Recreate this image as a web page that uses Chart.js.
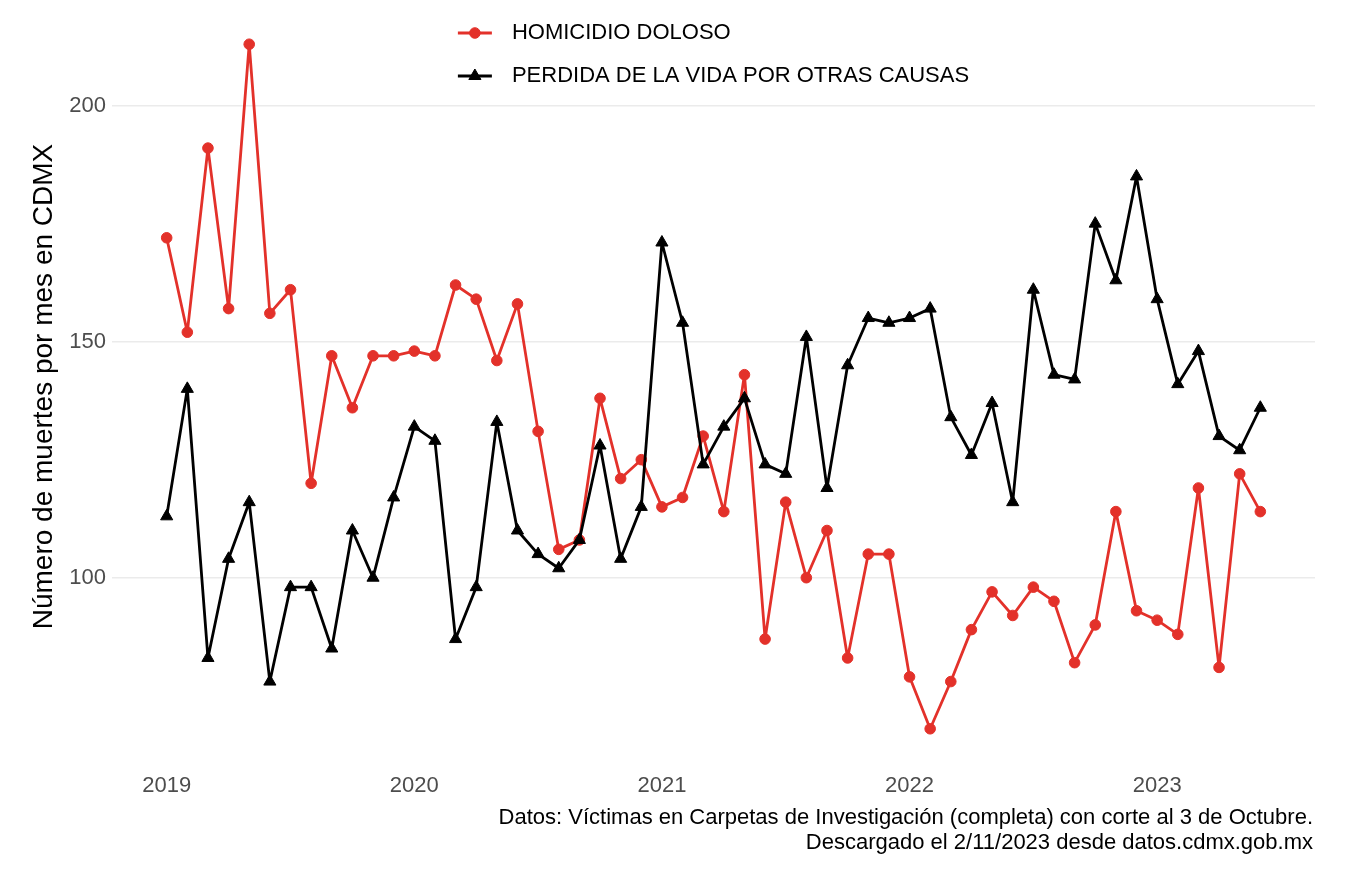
<!DOCTYPE html>
<html lang="es">
<head>
<meta charset="UTF-8">
<title>Muertes por mes en CDMX</title>
<script src="https://cdn.jsdelivr.net/npm/chart.js"></script>
<style>
    html, body {
        margin: 0;
        padding: 0;
        background: #ffffff;
    }
    #wrap {
        width: 1356px;
        height: 884px;
        position: relative;
    }
</style>
</head>
<body>
<div id="wrap"><canvas id="grafica"></canvas></div>
<script>
    // meses (primer dia de cada mes)
    var meses = [
        '2019-01','2019-02','2019-03','2019-04','2019-05','2019-06','2019-07','2019-08','2019-09','2019-10','2019-11','2019-12',
        '2020-01','2020-02','2020-03','2020-04','2020-05','2020-06','2020-07','2020-08','2020-09','2020-10','2020-11','2020-12',
        '2021-01','2021-02','2021-03','2021-04','2021-05','2021-06','2021-07','2021-08','2021-09','2021-10','2021-11','2021-12',
        '2022-01','2022-02','2022-03','2022-04','2022-05','2022-06','2022-07','2022-08','2022-09','2022-10','2022-11','2022-12',
        '2023-01','2023-02','2023-03','2023-04','2023-05','2023-06'
    ];

    var homicidio = [
        172, 152, 191, 157, 213, 156, 161, 120, 147, 136, 147, 147,
        148, 147, 162, 159, 146, 158, 131, 106, 108, 138, 121, 125,
        115, 117, 130, 114, 143, 87, 116, 100, 110, 83, 105, 105,
        79, 68, 78, 89, 97, 92, 98, 95, 82, 90, 114, 93,
        91, 88, 119, 81, 122, 114
    ];

    var otrasCausas = [
        113, 140, 83, 104, 116, 78, 98, 98, 85, 110, 100, 117,
        132, 129, 87, 98, 133, 110, 105, 102, 108, 128, 104, 115,
        171, 154, 124, 132, 138, 124, 122, 151, 119, 145, 155, 154,
        155, 157, 134, 126, 137, 116, 161, 143, 142, 175, 163, 185,
        159, 141, 148, 130, 127, 136
    ];

    var series = ['HOMICIDIO DOLOSO', 'PERDIDA DE LA VIDA POR OTRAS CAUSAS'];
    var colores = ['#e3312a', '#000000'];
    var anios = [2019, 2020, 2021, 2022, 2023];
    var yTicks = [100, 150, 200];
    var tituloY = 'Número de muertes por mes en CDMX';
    var nota = [
        'Datos: Víctimas en Carpetas de Investigación (completa) con corte al 3 de Octubre.',
        'Descargado el 2/11/2023 desde datos.cdmx.gob.mx'
    ];

    var fuente = '"Liberation Sans", Arial, Helvetica, sans-serif';
    var radioCirculo = 5.3;
    var radioTriangulo = 7;

    function aDecimal(m) {
        var p = m.split('-');
        return Number(p[0]) + (Number(p[1]) - 1) / 12;
    }

    var xs = meses.map(aDecimal);

    // rango como ggplot: 5% de expansion a cada lado
    var xMin = xs[0], xMax = xs[xs.length - 1];
    var xPad = (xMax - xMin) * 0.05;
    var todos = homicidio.concat(otrasCausas);
    var yLo = Math.min.apply(null, todos), yHi = Math.max.apply(null, todos);
    var yPad = (yHi - yLo) * 0.05;

    function puntos(vals) {
        return vals.map(function (v, i) { return { x: xs[i], y: v }; });
    }

    function dibujaSimbolo(ctx, estilo, x, y, color) {
        ctx.save();
        ctx.fillStyle = color;
        ctx.strokeStyle = color;
        ctx.lineWidth = 1;
        ctx.beginPath();
        if (estilo === 'triangle') {
            for (var k = 0; k < 3; k++) {
                var a = k * 2 * Math.PI / 3;
                var px = x + Math.sin(a) * radioTriangulo, py = y - Math.cos(a) * radioTriangulo;
                if (k === 0) ctx.moveTo(px, py); else ctx.lineTo(px, py);
            }
            ctx.closePath();
        } else {
            ctx.arc(x, y, radioCirculo, 0, Math.PI * 2);
        }
        ctx.fill();
        ctx.stroke();
        ctx.restore();
    }

    var leyendaYNota = {
        id: 'leyendaYNota',
        afterDraw: function (chart) {
            var ctx = chart.ctx;
            var area = chart.chartArea;
            ctx.save();
            ctx.font = '22px ' + fuente;
            ctx.textBaseline = 'middle';

            // leyenda centrada sobre el panel, una serie por renglon
            var anchoTexto = Math.max.apply(null, series.map(function (s) { return ctx.measureText(s).width; }));
            var ancho = 54 + anchoTexto;
            var izq = (area.left + area.right) / 2 - ancho / 2;
            var filas = [33, 76];
            var estilos = ['circle', 'triangle'];
            for (var i = 0; i < series.length; i++) {
                var y = filas[i];
                ctx.strokeStyle = colores[i];
                ctx.lineWidth = 2.8;
                ctx.beginPath();
                ctx.moveTo(izq, y);
                ctx.lineTo(izq + 34, y);
                ctx.stroke();
                dibujaSimbolo(ctx, estilos[i], izq + 17, y, colores[i]);
                ctx.fillStyle = '#000000';
                ctx.textAlign = 'left';
                ctx.fillText(series[i], izq + 54, y);
            }

            // nota al pie
            ctx.fillStyle = '#000000';
            ctx.textAlign = 'right';
            ctx.fillText(nota[0], area.right - 2, 818);
            ctx.fillText(nota[1], area.right - 2, 843);
            ctx.restore();
        }
    };

    var ctx = document.getElementById('grafica').getContext('2d');
    var grafica = new Chart(ctx, {
        type: 'line',
        data: {
            datasets: [
                {
                    label: series[0],
                    data: puntos(homicidio),
                    borderColor: colores[0],
                    backgroundColor: colores[0],
                    borderWidth: 2.8,
                    borderJoinStyle: 'round',
                    borderCapStyle: 'round',
                    pointStyle: 'circle',
                    pointRadius: radioCirculo,
                    pointBorderWidth: 1,
                    tension: 0,
                    order: 1
                },
                {
                    label: series[1],
                    data: puntos(otrasCausas),
                    borderColor: colores[1],
                    backgroundColor: colores[1],
                    borderWidth: 2.8,
                    borderJoinStyle: 'round',
                    borderCapStyle: 'round',
                    pointStyle: 'triangle',
                    pointRadius: radioTriangulo,
                    pointBorderWidth: 1,
                    tension: 0,
                    order: 0
                }
            ]
        },
        options: {
            responsive: true,
            maintainAspectRatio: false,
            animation: false,
            layout: {
                padding: { top: 10, right: 41, bottom: 0, left: 0 }
            },
            plugins: {
                legend: { display: false },
                tooltip: { enabled: false }
            },
            scales: {
                x: {
                    type: 'linear',
                    min: xMin - xPad,
                    max: xMax + xPad,
                    afterBuildTicks: function (scale) {
                        scale.ticks = anios.map(function (v) { return { value: v }; });
                    },
                    afterFit: function (scale) {
                        scale.height = 121;
                        scale.paddingLeft = 0;
                        scale.paddingRight = 0;
                    },
                    ticks: {
                        callback: function (v) { return String(v); },
                        color: '#4d4d4d',
                        font: { family: fuente, size: 22 },
                        padding: 10,
                        maxRotation: 0,
                        autoSkip: false
                    },
                    grid: { display: false, drawTicks: false },
                    border: { display: false }
                },
                y: {
                    min: yLo - yPad,
                    max: yHi + yPad,
                    afterBuildTicks: function (scale) {
                        scale.ticks = yTicks.map(function (v) { return { value: v }; });
                    },
                    afterFit: function (scale) {
                        scale.width = 112;
                        scale.paddingTop = 0;
                        scale.paddingBottom = 0;
                    },
                    ticks: {
                        color: '#4d4d4d',
                        font: { family: fuente, size: 22 },
                        padding: 6
                    },
                    grid: { color: '#ebebeb', lineWidth: 1.5, drawTicks: false },
                    border: { display: false },
                    title: {
                        display: true,
                        text: tituloY,
                        color: '#000000',
                        font: { family: fuente, size: 28 },
                        padding: { top: 27, bottom: 0 }
                    }
                }
            }
        },
        plugins: [leyendaYNota]
    });
</script>
</body>
</html>
